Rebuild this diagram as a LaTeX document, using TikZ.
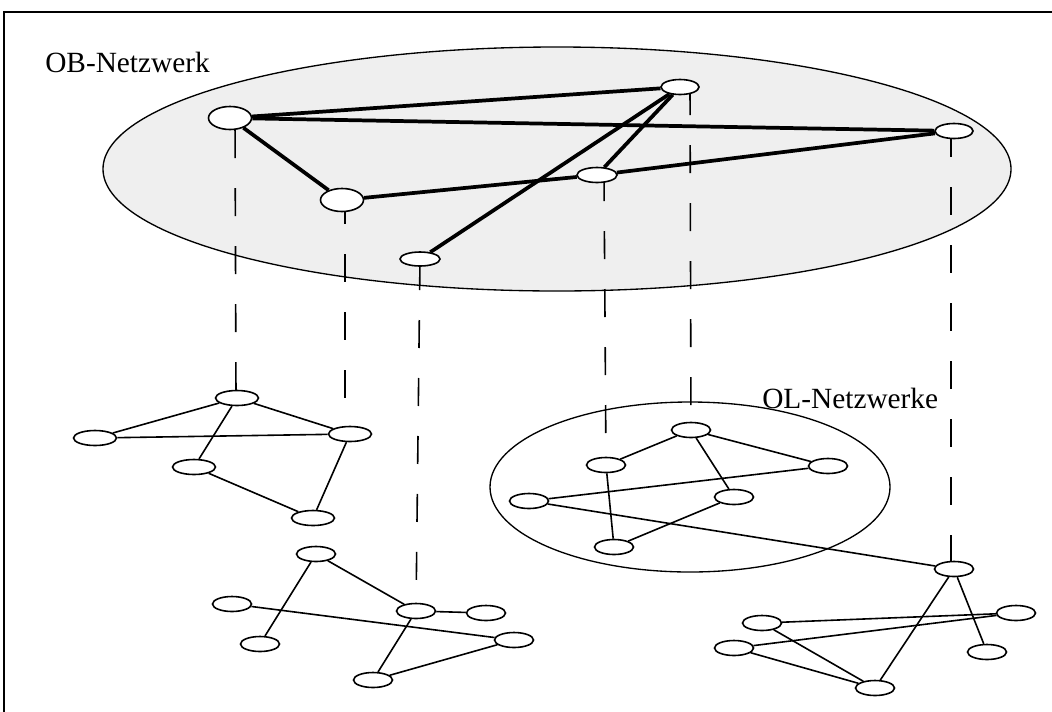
\documentclass[tikz,border=0pt]{standalone}
\usepackage{fontspec}
\setmainfont{Liberation Serif}
\usetikzlibrary{shapes.geometric}
\pgfdeclarelayer{back}
\pgfdeclarelayer{mid}
\pgfsetlayers{back,mid,main}
\definecolor{obgrey}{HTML}{EFEFEF}
\begin{document}
\begin{tikzpicture}[x=0.75pt,y=-0.75pt,
  nd/.style={ellipse,draw,fill=white,line width=1.2pt,inner sep=0pt,minimum width=29.25pt,minimum height=11.25pt},
  ndl/.style={nd,minimum width=32.25pt},
  ndb/.style={nd,minimum width=32.25pt,minimum height=17.25pt},
  lnk/.style={line width=1.2pt},
  hlnk/.style={line width=2.8pt},
  vlink/.style={line width=1.2pt,dash pattern=on 21pt off 22.5pt},
  lbl/.style={font=\fontsize{22}{26}\selectfont,inner sep=0pt},
  frm/.style={line width=1.6pt},
  cont/.style={line width=1pt}
]
\useasboundingbox (0,0) rectangle (1052,711);
\draw[frm] (4,716) -- (4,12) -- (1058,12);

% containers
\begin{pgfonlayer}{back}
\draw[cont,fill=obgrey] (557,169) ellipse [x radius=340.5pt, y radius=91.5pt];
\draw[cont] (690,487) ellipse [x radius=150pt, y radius=63.75pt];
\end{pgfonlayer}

\node[lbl,anchor=base west] (obl) at (45,72) {OB-Netzwerk};
\node[lbl,anchor=base west] (oll) at (762,408) {OL-Netzwerke};

% OB network nodes
\node[ndb] (N1) at (230,118) {};
\node[ndb] (N2) at (342,200) {};
\node[nd,minimum width=30pt,minimum height=10.5pt] (N3) at (420,259) {};
\node[nd,minimum width=28.5pt] (N4) at (680,87) {};
\node[nd,minimum width=30pt] (N5) at (597,175) {};
\node[nd,minimum width=28.5pt] (N6) at (954,131) {};

% left cluster
\node[ndl] (L1) at (237,398) {};
\node[ndl] (L2) at (95,438) {};
\node[ndl] (L3) at (350,434) {};
\node[ndl] (L4) at (194,467) {};
\node[ndl] (L5) at (313,518) {};

% bottom cluster
\node[nd] (B1) at (316,554) {};
\node[nd] (B2) at (232,604) {};
\node[nd] (B3) at (260,644) {};
\node[nd] (B4) at (416,611) {};
\node[nd] (B5) at (486,613) {};
\node[nd] (B6) at (514,640) {};
\node[nd] (B7) at (373,680) {};

% OL cluster
\node[nd] (O1) at (691,430) {};
\node[nd] (O2) at (606,465) {};
\node[nd] (O3) at (529,501) {};
\node[nd] (O4) at (734,497) {};
\node[nd] (O5) at (614,547) {};
\node[nd] (O6) at (828,466) {};

% right cluster
\node[nd] (R1) at (954,569) {};
\node[nd] (R2) at (1016,613) {};
\node[nd] (R3) at (762,623) {};
\node[nd] (R4) at (734,648) {};
\node[nd] (R5) at (987,652) {};
\node[nd] (R6) at (875,688) {};

% dashed mapping lines
\begin{pgfonlayer}{mid}
\draw[vlink,dash phase=34.5pt] ([xshift=3.75pt]N1.center) -- ([xshift=-0.75pt]L1.center);
\draw[vlink,dash phase=3pt] ([xshift=2.25pt]N2.center) -- ([xshift=-3.75pt]L3.center);
\draw[vlink,dash phase=41.25pt] (N3.center) -- (B4.center);
\draw[vlink,dash phase=1.5pt] ([xshift=5.25pt]N5.center) -- (O2.center);
\draw[vlink,dash phase=0pt] ([xshift=7.5pt]N4.center) -- (O1.center);
\draw[vlink,dash phase=1.5pt] ([xshift=-2.25pt]N6.center) -- ([xshift=-2.25pt]R1.center);
\end{pgfonlayer}

% OB edges
\draw[hlnk] (N1) -- (N4);
\draw[hlnk] (N1) -- (N6);
\draw[hlnk] (N1) -- (N2);
\draw[hlnk] (N2) -- (N5);
\draw[hlnk] (N5) -- (N6);
\draw[hlnk] (N4) -- (N5);
\draw[hlnk] (N4) -- (N3);

% left edges
\draw[lnk] (L1) -- (L2);
\draw[lnk] (L1) -- (L3);
\draw[lnk] (L1) -- (L4);
\draw[lnk] (L2) -- (L3);
\draw[lnk] (L4) -- (L5);
\draw[lnk] (L3) -- (L5);

% bottom edges
\draw[lnk] (B1) -- (B3);
\draw[lnk] (B1) -- (B4);
\draw[lnk] (B2) -- (B6);
\draw[lnk] (B4) -- (B5);
\draw[lnk] (B4) -- (B7);
\draw[lnk] (B7) -- (B6);

% OL edges
\draw[lnk] (O1) -- (O2);
\draw[lnk] (O1) -- (O4);
\draw[lnk] (O1) -- (O6);
\draw[lnk] (O2) -- (O5);
\draw[lnk] (O5) -- (O4);
\draw[lnk] (O3) -- (O6);
\draw[lnk] (O3) -- (R1);

% right edges
\draw[lnk] (R1) -- (R6);
\draw[lnk] (R1) -- (R5);
\draw[lnk] (R3) -- (R2);
\draw[lnk] (R4) -- (R2);
\draw[lnk] (R3) -- (R6);
\draw[lnk] (R4) -- (R6);
\end{tikzpicture}
\end{document}
